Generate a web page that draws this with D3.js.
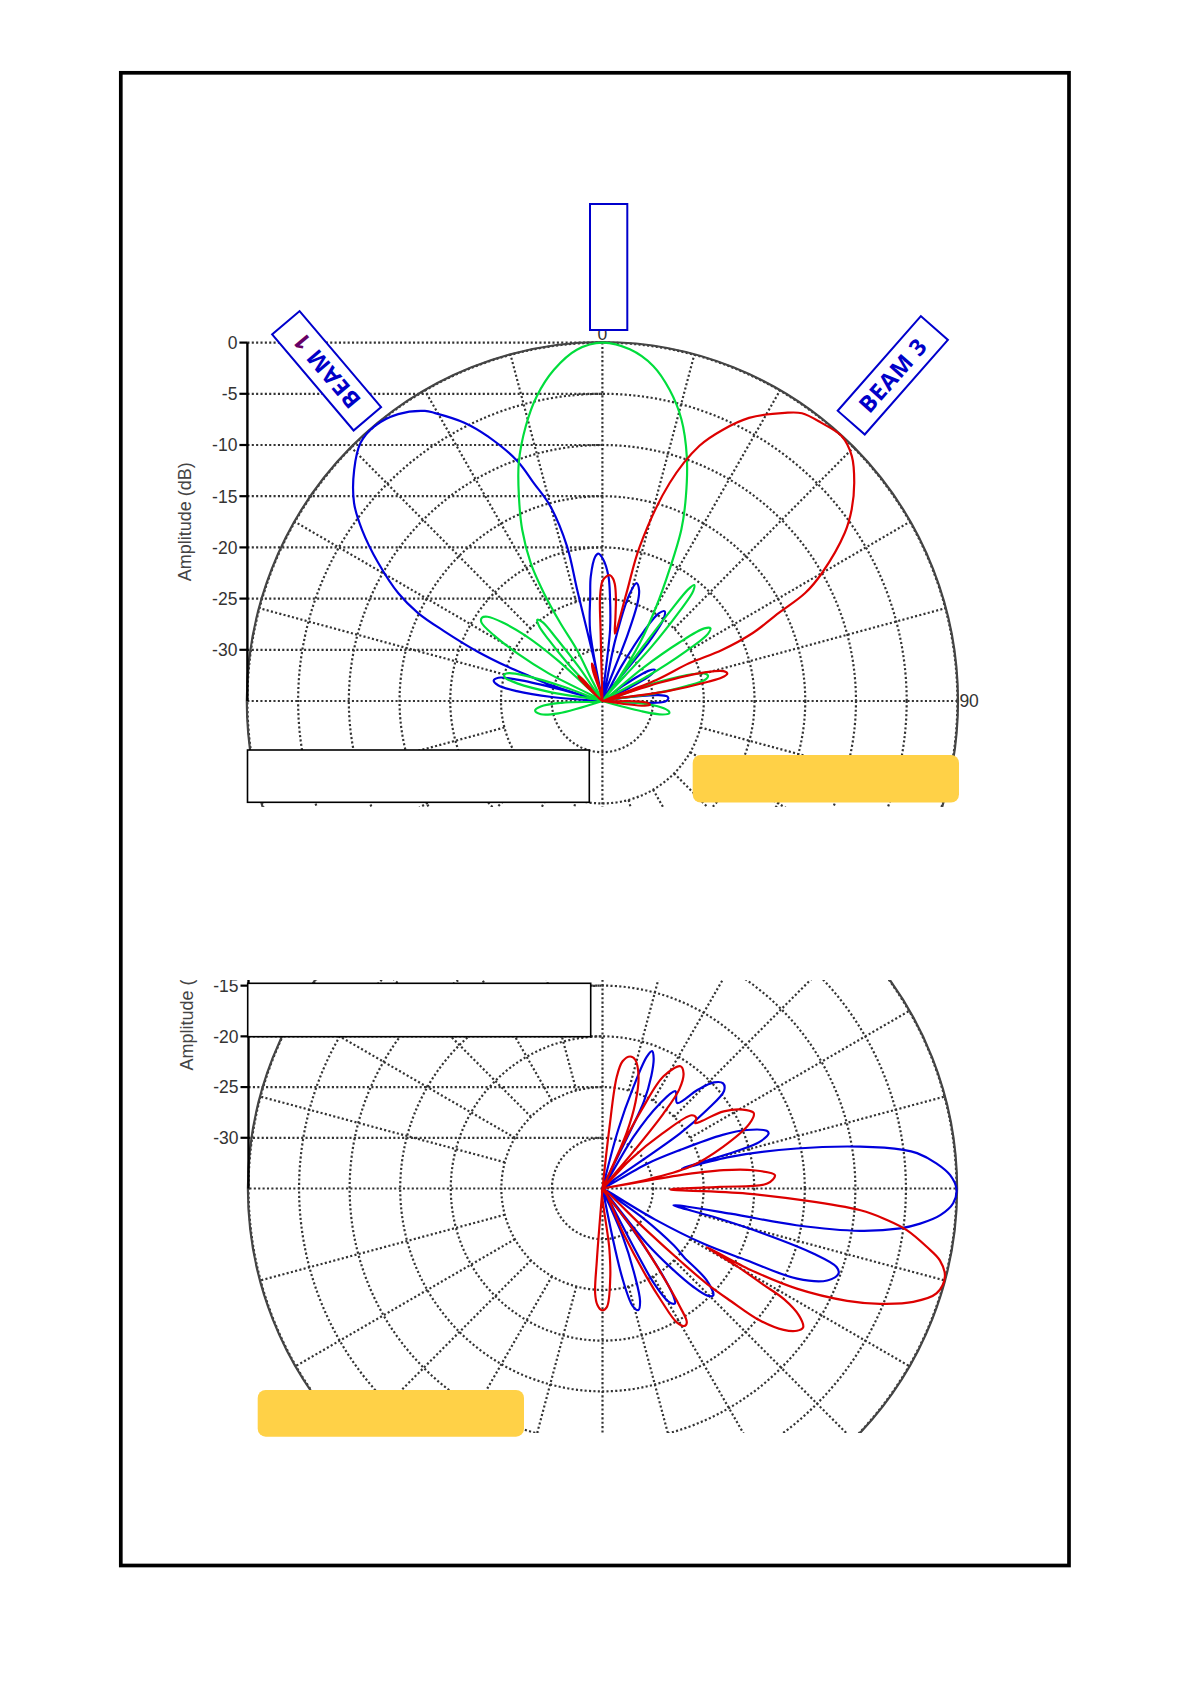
<!DOCTYPE html>
<html>
<head>
<meta charset="utf-8">
<script src="https://cdn.jsdelivr.net/npm/d3@7"></script>
<style>
  body { margin: 0; background: #fff; }
  svg { display: block; }
</style>
</head>
<body>
<svg id="chart" width="1192" height="1685"></svg>
<script>
// Every pattern point is [angle in degrees clockwise from boresight, amplitude dB].
// Values below -35 dB sit at the centre of the plot.
var dbTicks = [0, -5, -10, -15, -20, -25, -30];
var dbRings = [-30, -25, -20, -15, -10, -5, 0];
var spokeAngles = d3.range(0, 360, 15);
var upperAngleLabels = [{ angle: 0, text: '0' }, { angle: 90, text: '90' }];

var upperBeam1 = [
    [-88, -35], [-85.5, -30], [-83.5, -26.5], [-81.5, -24.6], [-79.5, -24.1], [-77.5, -24.5], [-76, -26.5], [-75, -30], [-74.5, -35],
    [-74, -32.5], [-73, -29.6], [-71.4, -27.5], [-70.3, -25.1], [-68.6, -21.8], [-66.4, -18.0], [-64.7, -14.9], [-62.4, -12.3],
    [-58.6, -9.1], [-54.8, -6.0], [-51.7, -3.8], [-47.3, -1.7], [-43.4, -0.3], [-39.9, 0], [-35.7, -0.5], [-31.7, -1.7],
    [-30.4, -2.4], [-26.6, -4.6], [-23.6, -6.8], [-19.7, -10.1], [-17.6, -12.7], [-15.1, -15.3], [-13.0, -19.5],
    [-12.9, -23.8], [-12.4, -27.9], [-11.5, -31], [-11, -35],
    [-10, -28], [-6.7, -24.7], [-5.4, -22.8], [-2.9, -20.9], [-1.6, -20.6], [0.4, -21.2], [2.8, -22.8], [4.2, -24.8], [6.2, -28], [8, -35],
    [12, -29], [14.4, -24.2], [16.3, -23.0], [18.5, -23.6], [19.9, -24.8], [21, -28], [22.5, -35],
    [29, -31], [31, -27], [33, -24.8], [35, -24.3], [37, -25], [38.5, -27.5], [40.5, -35],
    [54, -32.5], [57, -29.6], [59.5, -29.0], [62, -29.6], [64.5, -32.5], [66, -35],
    [81, -33], [84, -29.5], [86, -28.6], [88, -28.5], [90.5, -28.8], [92.5, -30.5], [94, -35]
];

var upperBeam2 = [
    [-109, -35], [-105.5, -30.5], [-102, -28.8], [-98, -28.3], [-95, -28.9], [-92.5, -31], [-90.5, -35],
    [-80.5, -30], [-78.5, -26.5], [-76.5, -25.1], [-75, -25], [-73.5, -25.4], [-72, -27], [-70, -31], [-68.5, -35],
    [-63, -29], [-61, -25.5], [-59, -22.5], [-57.2, -20.8], [-55.6, -20.6], [-54, -21], [-52, -22.6], [-50, -25], [-48, -29], [-46.5, -35],
    [-43, -30], [-41.5, -27], [-40.5, -25.4], [-39, -24.8], [-37.5, -25.3], [-36.5, -27.5], [-35, -31], [-33, -35],
    [-26.9, -32.4], [-26.7, -29.4], [-28.6, -26.3], [-28.7, -23], [-27.7, -19.8], [-25.3, -16.5], [-22.4, -13.4],
    [-19.5, -10.3], [-15.7, -7.1], [-12.2, -4.5], [-8.4, -2.3], [-4.2, -0.6], [0, 0], [4.5, -0.55], [8.7, -1.9],
    [12.3, -3.9], [15.8, -6.4], [19.2, -9.7], [22.4, -13.4], [24.9, -16.5], [27.3, -20.6], [29.9, -24.3], [33.2, -28.3], [36, -32.3], [36.5, -35],
    [37, -28], [37.3, -24], [37.8, -21.2], [38.6, -20.5], [39.8, -21], [41, -23.5], [42.5, -28], [44, -35],
    [51, -30], [53, -25.5], [54.8, -22.7], [56.3, -22.2], [57.8, -22.7], [59.5, -25.5], [61.5, -30], [63, -35],
    [71, -30], [73, -26.5], [75, -24.6], [76.7, -24.3], [78.3, -24.6], [80, -26.5], [82, -30], [83.5, -35],
    [93, -31.5], [96, -29.2], [98.5, -28.4], [100.3, -28.3], [102.5, -28.9], [104.5, -31], [106.5, -35]
];

var upperBeam3 = [
    [-50, -35], [-47.5, -32.8], [-45.5, -31.8], [-44, -31.6], [-42.5, -32.2], [-41, -35],
    [-17.5, -31.9], [-15.8, -31.2], [-14.2, -31.7], [-13, -35],
    [-2, -35], [-1.5, -28], [-1.3, -24.8], [0, -23.3], [2, -22.8], [3.5, -22.7], [5, -23], [6.1, -23.5], [7.5, -24.8], [9, -26.8],
    [10.6, -28.3], [12.7, -24.2], [13.7, -19.5], [17.3, -12.7], [21, -8.3], [24.1, -6.0], [27.6, -3.8], [32.6, -1.6],
    [35, -0.7], [38.5, -0.3], [42.4, 0], [45.8, -0.7], [49.4, -2.3], [52.7, -4.1], [55.5, -6.0], [60, -10.0], [62.2, -12.4],
    [63.7, -15.6], [65.9, -18.8], [67.1, -22.2], [66.7, -25.7], [68.9, -29.3], [70.5, -35],
    [72.5, -29], [74.6, -24.4], [76.3, -22.7], [77.8, -22.4], [79, -23], [79.8, -24.4], [81.5, -28.5], [83.5, -35],
    [90.5, -32], [92.5, -30.5], [94.5, -30.3], [96.3, -30.8], [98, -35]
];

var lowerBeamA = [
    [10, -35], [15, -29], [17, -24.5], [18.6, -21.3], [19.9, -20.6], [21.5, -21.2], [23.5, -22.9], [25.5, -25.5], [27.5, -35],
    [31, -29], [34, -25], [36.9, -23.0], [41.2, -23.8], [44, -21.5], [46.5, -19.8], [49, -19.2], [51.3, -19.6], [53.1, -22.1], [54.7, -25.6], [56.5, -35],
    [61, -30], [63.7, -26.4], [66, -22], [68, -19.6], [70.7, -17.8], [71.7, -17.7], [73.5, -18.8], [74.4, -20.9], [75.9, -26.9],
    [76.1, -22.0], [78.4, -15.4], [80.8, -9.2], [82.7, -5.0], [83.6, -3.7], [85.7, -1.9], [87.8, -0.6], [90.1, 0], [92.4, -0.3],
    [94.5, -1.5], [96.3, -3.4], [97.6, -5.3], [99.3, -9.2], [100.7, -15.5], [101.1, -22.1], [103.2, -27.8],
    [104.3, -23.7], [105.6, -18.5], [107.1, -13.2], [108.5, -10.6], [109.8, -10.2], [112.2, -11.0], [114.8, -13.8], [116.4, -19.1], [118.6, -23.6], [120.5, -29], [122, -35],
    [126, -30], [128.5, -26], [130, -24.5], [131.3, -21.3], [133.9, -19.8], [135.5, -20.2], [137.2, -21.8], [139, -24.5], [141.1, -28], [142.5, -35],
    [143.5, -30], [145, -25], [146.5, -22.3], [147.7, -21.6], [149.5, -22], [151.5, -24.5], [154, -35],
    [157, -30], [159.5, -26], [161.5, -23.3], [163.5, -22.5], [165.5, -23], [167.5, -26], [170, -35]
];

var lowerBeamB = [
    [4, -35], [6.5, -29], [7.3, -23.9], [9, -22.3], [11.9, -21.7], [14.3, -21.9], [17.9, -23.4], [21, -25.9], [23.5, -29], [24.5, -35],
    [25, -30], [26.5, -26.4], [28.6, -22.4], [32.6, -20.7], [35.2, -21.1], [37.8, -22.6], [39.2, -25.5], [40, -30], [40.5, -35],
    [44, -31], [47.5, -27], [50.7, -23.6], [53, -23.4], [54.9, -23.8], [55.8, -23.2], [57.6, -20.8], [61.5, -18.8], [63.6, -18.3],
    [66.2, -19.1], [71, -22.4], [76.1, -26.1], [79, -31], [79.5, -35],
    [80.2, -27.5], [81.4, -22.9], [83.1, -20.0], [85.6, -17.9], [88.3, -18.7], [89.2, -23.4], [90.9, -28.3],
    [92, -20.7], [94.8, -9.4], [96.3, -6.7], [97.8, -4.6], [100.2, -2.4], [102, -0.9], [104.4, -0.05], [107.4, -0.4],
    [110, -2.3], [112.5, -5.3], [114.6, -8.4], [117.2, -13.4], [118.8, -18.6], [119.3, -23.2],
    [120, -19.5], [120.8, -16.5], [121.3, -14.0], [122.8, -11.9], [124.6, -10.9], [126.1, -11.2], [127.9, -12.3], [129.9, -14.7],
    [131.2, -18.2], [132.3, -21], [132.9, -24.5], [133.5, -29], [134.5, -35],
    [143, -30], [145, -25.5], [146.7, -21], [147.7, -19.4], [149, -19.2], [150.9, -19.9], [152.3, -22.5], [153.4, -25.2], [155, -30], [157, -35],
    [173.5, -29], [175, -26.2], [177.9, -23.3], [180.3, -23.0], [182.5, -23.5], [184, -24.6], [184.5, -27.9], [186, -35]
];

var BLUE = '#0000dd', GREEN = '#00dd3c', RED = '#dd0000';
var GRID = '#333';
var svg = d3.select('#chart');
var defs = svg.append('defs');

// Draws one dB polar pattern (boresight up, clockwise angles).
function polarChart(config) {
    var rx = config.rx, ry = config.ry;
    var r = d3.scaleLinear().domain([-35, 0]).range([0, ry]).clamp(true);
    var root = svg.append('g');

    defs.append('clipPath').attr('id', config.clipId)
        .append('rect')
        .attr('x', 0).attr('y', config.clipTop)
        .attr('width', 1192).attr('height', config.clipBottom - config.clipTop);
    root.attr('clip-path', 'url(#' + config.clipId + ')');

    var plot = root.append('g')
        .attr('transform', 'translate(' + config.cx + ',' + config.cy + ') scale(' + (rx / ry) + ',1)');

    var dotted = function(sel) {
        return sel.attr('fill', 'none').attr('stroke', GRID)
            .attr('stroke-width', 2.2).attr('stroke-dasharray', '2.1,2.3');
    };

    plot.selectAll('circle.ring').data(dbRings).enter().append('circle')
        .attr('class', 'ring').attr('r', d => r(d)).call(dotted);

    plot.selectAll('line.spoke').data(spokeAngles).enter().append('line')
        .attr('class', 'spoke')
        .attr('x1', d => (d % 90 === 0 ? 0 : r(-25)) * Math.sin(d * Math.PI / 180))
        .attr('y1', d => -(d % 90 === 0 ? 0 : r(-25)) * Math.cos(d * Math.PI / 180))
        .attr('x2', d => ry * Math.sin(d * Math.PI / 180))
        .attr('y2', d => -ry * Math.cos(d * Math.PI / 180))
        .call(dotted);

    plot.selectAll('line.level').data(dbTicks).enter().append('line')
        .attr('class', 'level')
        .attr('x1', -ry).attr('x2', 0)
        .attr('y1', d => -r(d)).attr('y2', d => -r(d))
        .call(dotted);

    plot.append('circle').attr('r', ry + 0.6)
        .attr('fill', 'none').attr('stroke', '#444').attr('stroke-width', 2.2);

    var line = d3.lineRadial()
        .angle(d => d[0] * Math.PI / 180)
        .radius(d => r(d[1]))
        .curve(d3.curveCatmullRom.alpha(0.5));

    config.series.forEach(function(s) {
        plot.append('path').datum(s.data)
            .attr('d', line)
            .attr('fill', 'none')
            .attr('stroke', s.color)
            .attr('stroke-width', 2.2)
            .attr('stroke-linejoin', 'round');
    });

    // radial dB axis on the left
    var axisX = config.cx - rx;
    var y = d3.scaleLinear().domain([-35, 0]).range([config.cy, config.cy - ry]);
    var axis = root.append('g');
    axis.append('line')
        .attr('x1', axisX).attr('x2', axisX)
        .attr('y1', y(0)).attr('y2', y(-35))
        .attr('stroke', '#000').attr('stroke-width', 2.4);
    var ticks = axis.selectAll('g.tick').data(dbTicks).enter().append('g').attr('class', 'tick');
    ticks.append('line')
        .attr('x1', axisX - 8).attr('x2', axisX)
        .attr('y1', d => y(d)).attr('y2', d => y(d))
        .attr('stroke', '#000').attr('stroke-width', 2.2);
    ticks.append('text')
        .attr('x', axisX - 10).attr('y', d => y(d)).attr('dy', '0.36em')
        .attr('text-anchor', 'end')
        .attr('font-family', '"Liberation Sans", Arial, sans-serif')
        .attr('font-size', 17.5).attr('fill', '#333')
        .text(d => d);
    axis.append('text')
        .attr('transform', 'translate(' + (axisX - 56) + ',' + y(-17.5) + ') rotate(-90)')
        .attr('text-anchor', 'middle')
        .attr('font-family', '"Liberation Sans", Arial, sans-serif')
        .attr('font-size', 18).attr('fill', '#444')
        .text('Amplitude (dB)');

    (config.angleLabels || []).forEach(function(l) {
        var t = root.append('text')
            .attr('font-family', '"Liberation Sans", Arial, sans-serif')
            .attr('font-size', 17.5).attr('fill', '#333')
            .text(l.text);
        if (l.angle === 0) {
            t.attr('x', config.cx).attr('y', config.cy - ry - 3).attr('text-anchor', 'middle');
        } else {
            t.attr('x', config.cx + rx + 2).attr('y', config.cy).attr('dy', '0.36em');
        }
    });
}

polarChart({
    cx: 602.4, cy: 701, rx: 355, ry: 358.4,
    clipId: 'clipUpper', clipTop: 0, clipBottom: 807,
    angleLabels: upperAngleLabels,
    series: [
        { data: upperBeam1, color: BLUE },
        { data: upperBeam2, color: GREEN },
        { data: upperBeam3, color: RED }
    ]
});

polarChart({
    cx: 602.5, cy: 1188.5, rx: 354, ry: 355,
    clipId: 'clipLower', clipTop: 980, clipBottom: 1433,
    series: [
        { data: lowerBeamA, color: BLUE },
        { data: lowerBeamB, color: RED }
    ]
});

// cover boxes placed over the plots
var boxes = [
    { x: 247.5, y: 750, w: 341.8, h: 52.3 },
    { x: 247.7, y: 983.3, w: 343, h: 53.4 }
];
svg.selectAll('rect.cover').data(boxes).enter().append('rect')
    .attr('class', 'cover')
    .attr('x', d => d.x).attr('y', d => d.y).attr('width', d => d.w).attr('height', d => d.h)
    .attr('fill', '#fff').attr('stroke', '#000').attr('stroke-width', 1.6);

var notes = [
    { x: 692.7, y: 755, w: 266.3, h: 47.5 },
    { x: 257.7, y: 1390, w: 266.3, h: 46.7 }
];
svg.selectAll('rect.note').data(notes).enter().append('rect')
    .attr('class', 'note')
    .attr('x', d => d.x).attr('y', d => d.y).attr('width', d => d.w).attr('height', d => d.h)
    .attr('rx', 8).attr('ry', 8)
    .attr('fill', '#ffd147');

svg.append('rect')
    .attr('x', 590).attr('y', 204).attr('width', 37.3).attr('height', 126)
    .attr('fill', '#fff').attr('stroke', '#0000cc').attr('stroke-width', 2);

// beam tags
var tags = [
    { cx: 326.6, cy: 370.8, angle: 49.7, flip: true, parts: [['BEAM ', '#0000c8'], ['1', '#660066']] },
    { cx: 892.8, cy: 375.3, angle: -48.7, flip: false, parts: [['BEAM 3', '#0000c8']] }
];
tags.forEach(function(t) {
    var g = svg.append('g').attr('transform', 'translate(' + t.cx + ',' + t.cy + ') rotate(' + t.angle + ')');
    g.append('rect')
        .attr('x', -63).attr('y', -18).attr('width', 126).attr('height', 36)
        .attr('fill', '#fff').attr('stroke', '#0000cc').attr('stroke-width', 2);
    var text = g.append('text')
        .attr('transform', t.flip ? 'rotate(180)' : null)
        .attr('text-anchor', 'middle').attr('dy', '0.36em')
        .attr('font-family', '"Open Sans", "Noto Sans", sans-serif')
        .attr('font-weight', 'bold').attr('font-size', 23)
        .attr('letter-spacing', 0.8);
    t.parts.forEach(function(p) {
        text.append('tspan').attr('fill', p[1]).text(p[0]);
    });
});

svg.append('rect')
    .attr('x', 120.8).attr('y', 72.8).attr('width', 948.2).attr('height', 1492.7)
    .attr('fill', 'none').attr('stroke', '#000').attr('stroke-width', 3.7);
</script>
</body>
</html>
